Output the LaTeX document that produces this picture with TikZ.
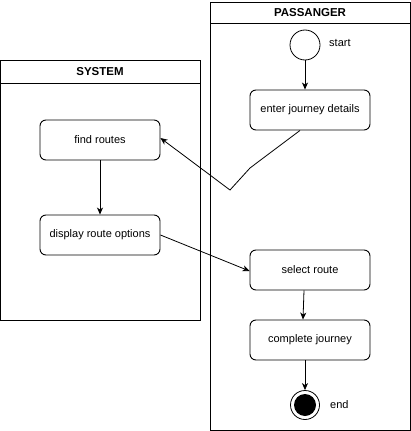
\documentclass[tikz,border=0pt]{standalone}
\usepackage{fontspec}
\setmainfont{Liberation Sans}
\usetikzlibrary{arrows.meta}
\begin{document}
\begin{tikzpicture}[x=1pt,y=-1pt,
  lane/.style={draw,line width=1pt},
  act/.style={draw,line width=0.9pt,rounded corners=6pt,minimum width=120pt,minimum height=40pt,inner sep=0pt,font=\fontsize{11}{13}\selectfont},
  lbl/.style={font=\fontsize{11}{13}\selectfont,anchor=west,inner sep=0pt},
  hdr/.style={font=\bfseries\fontsize{11.5}{13}\selectfont},
  flow/.style={draw,line width=0.8pt,-{Stealth[length=7pt,width=6pt,inset=2pt]}}]
\useasboundingbox (0,0) rectangle (411,431);
% lanes
\draw[lane] (0.5,60) rectangle (200,320);
\draw[lane] (0.5,83) -- (200,83);
\node[hdr] (sys) at (100,71.5) {SYSTEM};
\draw[lane] (210,2) rectangle (410,430);
\draw[lane] (210,23) -- (410,23);
\node[hdr] (pas) at (310,12.5) {PASSANGER};
% nodes
\node[draw,circle,line width=0.8pt,minimum size=30pt,inner sep=0pt] (start) at (305,45) {};
\node[lbl] (startl) at (329,43) {start};
\node[act] (enter) at (310,110) {enter journey details};
\node[act] (find) at (100,140) {find routes};
\node[act] (disp) at (100,235) {display route options};
\node[act] (sel) at (310,270) {select route};
\node[act] (comp) at (310,340) {complete journey};
\node[draw,circle,line width=0.8pt,minimum size=29pt,inner sep=0pt] (endo) at (305,405) {};
\node[circle,fill=black,minimum size=22pt,inner sep=0pt] (endi) at (305,405) {};
\node[lbl] (endl) at (330,405) {end};
\coordinate (k1) at (250,168);
\coordinate (k2) at (230,190);
% connectors
\draw[flow] (start) -- (enter.north -| start);
\draw[flow] ([xshift=-10pt]enter.south) -- (k1) -- (k2) -- ([yshift=2pt]find.east);
\draw[flow] (find) -- (disp);
\draw[flow] (disp.east) -- ([yshift=-1pt]sel.west);
\draw[flow] ([xshift=-6pt]sel.south) -- ([xshift=-7pt]comp.north);
\draw[flow] (comp.south -| endo) -- (endo);
\end{tikzpicture}
\end{document}
